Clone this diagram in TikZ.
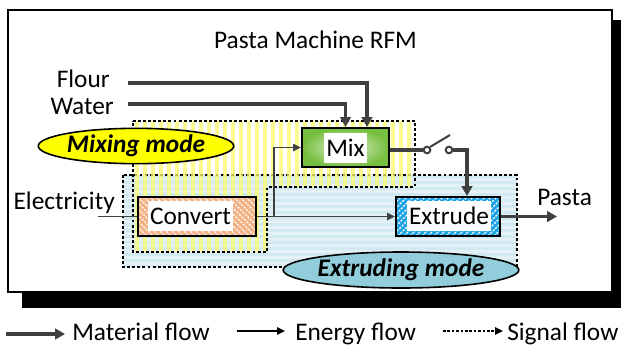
\documentclass[tikz,border=0pt]{standalone}
\usepackage{fontspec}
\setmainfont{Carlito}
\usetikzlibrary{arrows.meta,shapes.geometric,calc}
\definecolor{flowgray}{HTML}{404040}
\definecolor{bluebase}{HTML}{D3E9F1}
\definecolor{bluestripe}{HTML}{E4F2F7}
\definecolor{stripeyellow}{HTML}{FCFC6E}
\definecolor{mixgreen}{HTML}{76BE3E}
\definecolor{mixlight}{HTML}{E4F3D6}
\definecolor{salmon}{HTML}{F4B183}
\definecolor{extrudeblue}{HTML}{1BA3E8}
\definecolor{modeyellow}{HTML}{FFFF00}
\definecolor{modeblue}{HTML}{92CDDC}
\tikzset{
  txt/.style={font=\fontsize{19}{22}\selectfont, inner sep=0pt},
  regionborder/.style={draw=black, line width=1.1pt, dash pattern=on 2.2pt off 1.6pt},
  material/.style={draw=flowgray, line width=2.6pt, -{Triangle[length=7.5pt,width=8pt]}},
  materialline/.style={draw=flowgray, line width=2.6pt},
  energy/.style={draw=flowgray, line width=1.1pt, -{Triangle[length=6pt,width=5.5pt]}},
  energyline/.style={draw=flowgray, line width=1.1pt},
  funcbox/.style={draw=black, line width=1.5pt, rectangle, inner sep=0pt},
  labelbox/.style={txt, fill=white, minimum height=22.5pt, inner xsep=1.5pt},
  modeellipse/.style={ellipse, draw=black, line width=1.2pt, inner sep=0pt,
     font=\fontsize{19}{22}\selectfont\bfseries\itshape},
  switchpin/.style={circle, draw=flowgray, line width=1.5pt, fill=white, minimum size=5pt, inner sep=0pt},
}
\begin{document}
\begin{tikzpicture}[x=0.75pt,y=-0.75pt]
\useasboundingbox (0,0) rectangle (621,347);

% shadow and system frame
\fill[black] (22,20) rectangle (621,308);
\draw[line width=1.1pt, fill=white] (8,10) rectangle (612,292);

\node[txt, anchor=base] (title) at (315.5,48) {Pasta Machine RFM};

% extruding-mode region: light blue with horizontal stripes
\fill[bluebase] (123,175) rectangle (517,267);
\foreach \j in {178,184,...,264} \fill[bluestripe] (123,\j) rectangle (517,\j+2.5);
\draw[regionborder] (123,175) rectangle (517,267);

% mixing-mode region: yellow vertical stripes
\begin{scope}
  \clip (133,121) -- (415,121) -- (415,187) -- (267,187) -- (267,252) -- (133,252) -- cycle;
  \foreach \i in {135,143,...,415} \fill[stripeyellow, opacity=0.75] (\i,118) rectangle (\i+3.5,255);
\end{scope}
\draw[regionborder] (133,121) -- (415,121) -- (415,187) -- (267,187) -- (267,252) -- (133,252) -- cycle;

% Mix function
\node[funcbox, minimum width=65.25pt, minimum height=29.25pt,
      inner color=mixlight, outer color=mixgreen] (mix) at (345.5,147.5) {};
\node[labelbox] (mixlabel) at (mix.center) {Mix};

% Convert function: salmon with white dashed hatching
\fill[salmon] (138,197) rectangle (256,236);
\begin{scope}
  \clip (138,197) rectangle (256,236);
  \foreach \i in {90,96,...,260} \draw[white, line width=1pt, dash pattern=on 1.6pt off 1pt] (\i,197) -- (\i+39,236);
\end{scope}
\node[funcbox, minimum width=88.5pt, minimum height=29.25pt] (convert) at (197,216.5) {};
\node[labelbox, minimum width=62pt] (convertlabel) at (190.5,216) {Convert};

% Extrude function: blue with white dashed hatching
\fill[extrudeblue] (396,197) rectangle (500,236);
\begin{scope}
  \clip (396,197) rectangle (500,236);
  \foreach \i in {350,356,...,505} \draw[white, line width=1pt, dash pattern=on 1.6pt off 1pt] (\i,236) -- (\i+39,197);
\end{scope}
\node[funcbox, minimum width=78pt, minimum height=29.25pt] (extrude) at (448,216.5) {};
\node[labelbox, minimum width=61.5pt] (extrudelabel) at (449,216) {Extrude};

% mode labels
\node[modeellipse, fill=modeyellow, minimum width=130.5pt, minimum height=26.5pt] (mixmode) at (136,146) {Mixing mode};
\node[modeellipse, fill=modeblue, minimum width=159pt, minimum height=27pt] (extmode) at (401,270) {Extruding mode};

% external flows
\node[txt, anchor=base east] (flour) at (110,87) {Flour};
\node[txt, anchor=base east] (water) at (114,114) {Water};
\node[txt, anchor=base east] (elec) at (115,209) {Electricity};
\node[txt, anchor=base west] (pasta) at (537,205) {Pasta};

\coordinate (flourstart) at (128,83);
\coordinate (waterstart) at (128,104);
\coordinate (elecstart) at (98,216.5);
\coordinate (branch) at (274,216.5);
\coordinate (pastaend) at (557,216.5);

\draw[material] (flourstart) -| ($(mix.north)+(21.5,0)$);
\draw[material] (waterstart) -| (mix.north);
\draw[energyline] (elecstart) -- (convert.west);
\draw[energy] (convert.east) -- (extrude.west);
\draw[energy] (branch) |- (mix.west);
\draw[material] (extrude.east) -- (pastaend);

% switch between Mix and Extrude
\node[switchpin] (swa) at (427,150) {};
\node[switchpin] (swb) at (449,150) {};
\coordinate (lever) at (450,135);
\draw[materialline] (mix.east |- swa) -- (swa.west);
\draw[flowgray, line width=1.5pt] (swa.north east) -- (lever);
\draw[material] (swb.east) -| ($(extrude.north)+(19,0)$);

% legend
\coordinate (m1) at (6,334);  \coordinate (m2) at (65,334);
\coordinate (e1) at (237,331); \coordinate (e2) at (285,331);
\coordinate (s1) at (443,331); \coordinate (s2) at (503,331);
\draw[material] (m1) -- (m2);
\draw[black, line width=1.1pt, -{Triangle[length=6pt,width=5.5pt]}] (e1) -- (e2);
\draw[black, line width=1.1pt, dash pattern=on 2pt off 1.3pt, -{Triangle[length=6pt,width=5.5pt]}] (s1) -- (s2);
\node[txt, anchor=base west] (lmat) at (72,340) {Material flow};
\node[txt, anchor=base west] (lene) at (295,340) {Energy flow};
\node[txt, anchor=base west] (lsig) at (507,340) {Signal flow};
\end{tikzpicture}
\end{document}
